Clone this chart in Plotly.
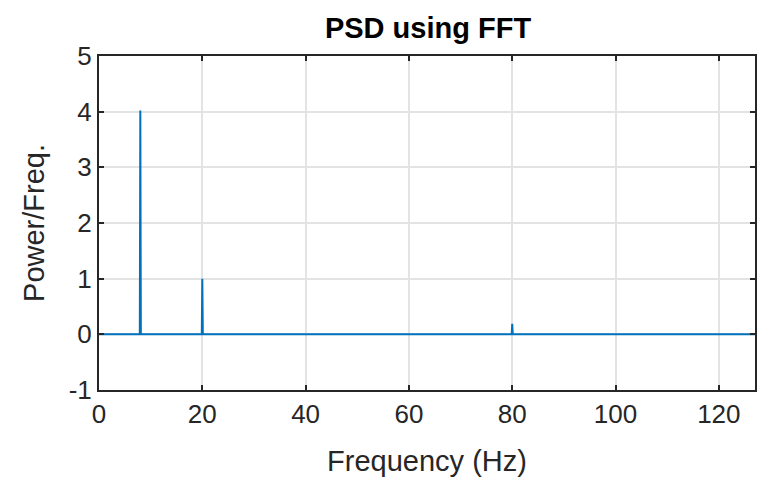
import plotly.graph_objects as go

# Data (PSD spikes on a zero baseline)
freq = [0, 7.9, 8, 8.1, 19.9, 20, 20.1, 79.9, 80, 80.1, 127]
psd = [0, 0, 4.02, 0, 0, 1.0, 0, 0, 0.19, 0, 0]

x_ticks = [0, 20, 40, 60, 80, 100, 120]
y_ticks = [-1, 0, 1, 2, 3, 4, 5]
y_tick_text = ["-1", "0", "1", "2", "3", "4", "5"]

FONT = "Liberation Sans, Arial, Helvetica, sans-serif"
AX = "#262626"
GRID = "#e3e3e3"

fig = go.Figure()
fig.add_trace(go.Scatter(x=freq, y=psd, mode="lines",
                         line=dict(color="#0072BD", width=2),
                         showlegend=False, hoverinfo="x+y"))

axis_common = dict(
    showline=True, linecolor=AX, linewidth=2, mirror="ticks",
    ticks="inside", ticklen=5, tickwidth=1.5, tickcolor=AX,
    showgrid=True, gridcolor=GRID, gridwidth=1.5, zeroline=False,
    tickfont=dict(family=FONT, size=26, color=AX),
)

fig.update_layout(
    width=759, height=480,
    margin=dict(l=99, r=2, t=56, b=90),
    paper_bgcolor="white", plot_bgcolor="white",
    title=dict(text="<b>PSD using FFT</b>", x=(99 + 757) / 2 / 759, xanchor="center",
               y=1 - 28 / 480, yanchor="middle",
               font=dict(family=FONT, size=29, color="black")),
    xaxis=dict(range=[0, 127], tickvals=x_ticks,
               title=dict(text="Frequency (Hz)", font=dict(family=FONT, size=29, color=AX), standoff=22),
               **axis_common),
    yaxis=dict(range=[-1, 5], tickvals=y_ticks, ticktext=y_tick_text,
               title=dict(text="Power/Freq.", font=dict(family=FONT, size=29, color=AX), standoff=16),
               **axis_common),
)

fig.write_html("out.html")
